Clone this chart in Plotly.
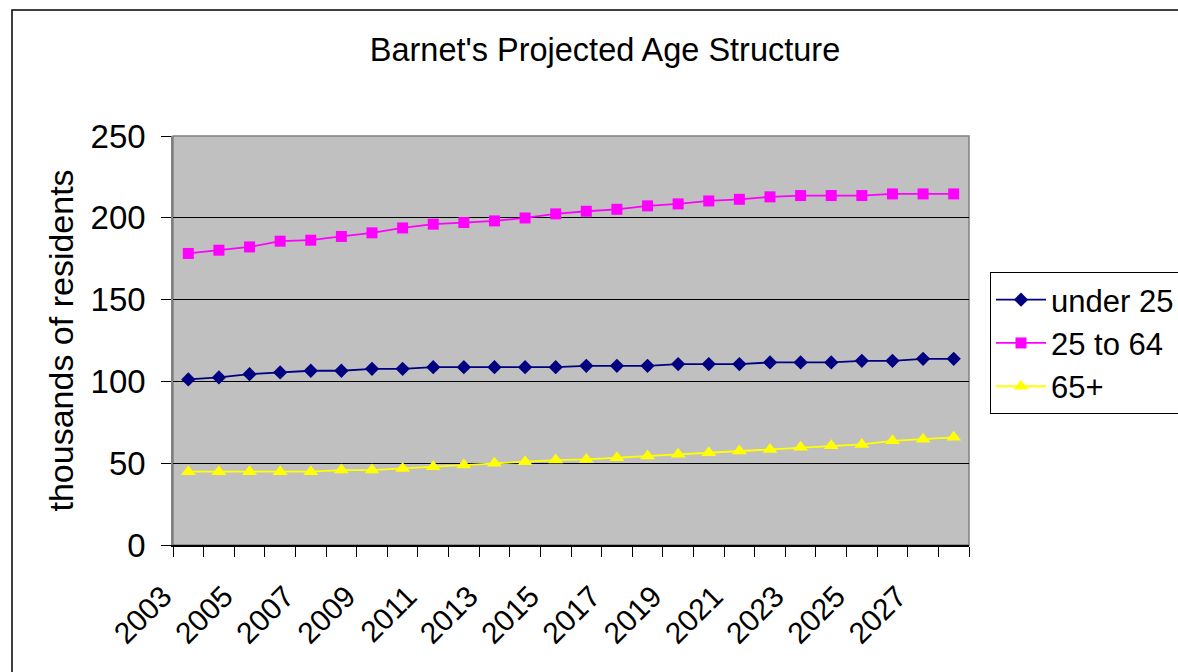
import plotly.graph_objects as go

years = [2003, 2004, 2005, 2006, 2007, 2008, 2009, 2010, 2011, 2012, 2013, 2014, 2015,
         2016, 2017, 2018, 2019, 2020, 2021, 2022, 2023, 2024, 2025, 2026, 2027, 2028]
under_25 = [101.2, 102.4, 104.4, 105.5, 106.5, 106.5, 107.7, 107.7, 108.7, 108.7, 108.7, 108.7, 108.7,
            109.5, 109.5, 109.5, 110.6, 110.6, 110.6, 111.6, 111.6, 111.6, 112.6, 112.6, 113.8, 113.8]
age_25_64 = [178.2, 180.2, 182.2, 185.7, 186.3, 188.6, 190.8, 193.8, 196.1, 197.1, 198.1, 199.9, 202.4,
             204.0, 205.2, 207.3, 208.5, 210.3, 211.3, 212.8, 213.6, 213.6, 213.6, 214.6, 214.6, 214.6]
age_65_plus = [44.8, 44.8, 44.8, 44.8, 44.8, 45.8, 45.8, 46.8, 47.8, 48.9, 49.9, 50.9, 51.9,
               52.3, 53.3, 54.4, 55.4, 56.4, 57.4, 58.4, 59.7, 60.7, 61.5, 63.7, 64.7, 65.8]
y_ticks = [0, 50, 100, 150, 200, 250]

FONT = "Arial, 'Liberation Sans', sans-serif"

fig = go.Figure()
fig.add_trace(go.Scatter(x=years, y=under_25, name="under 25", mode="lines+markers",
                         line=dict(color="#000080", width=1.8),
                         marker=dict(symbol="diamond", size=11, color="#000080")))
fig.add_trace(go.Scatter(x=years, y=age_25_64, name="25 to 64", mode="lines+markers",
                         line=dict(color="#FF00FF", width=1.8),
                         marker=dict(symbol="square", size=11, color="#FF00FF")))
fig.add_trace(go.Scatter(x=years, y=age_65_plus, name="65+", mode="lines+markers",
                         line=dict(color="#FFFF00", width=1.8),
                         marker=dict(symbol="triangle-up", size=13, color="#FFFF00")))

# category boundaries for tick marks; label every other year at its left boundary
tick_pos = [y - 0.5 for y in years] + [years[-1] + 0.5]
tick_txt = [str(y) if i % 2 == 0 else "" for i, y in enumerate(years)] + [""]

ML, MR, MT, MB = 173, 209, 136, 127
W, H = 1178, 672
pw = W - ML - MR
ph = H - MT - MB

def px_x(p):
    return (p - ML) / pw

def px_y(p):
    return (H - MB - p) / ph

fig.update_layout(
    width=W, height=H,
    margin=dict(l=ML, r=MR, t=MT, b=MB, autoexpand=False),
    paper_bgcolor="white",
    plot_bgcolor="#C0C0C0",
    font=dict(family=FONT, color="black"),
    title=dict(text="Barnet's Projected Age Structure", x=605 / W, xref="container",
               xanchor="center", y=1 - 50 / H, yref="container", yanchor="middle",
               font=dict(size=32.5, family=FONT, color="black")),
    xaxis=dict(range=[years[0] - 0.5, years[-1] + 0.5], tickmode="array",
               tickvals=tick_pos, ticktext=tick_txt, tickangle=-45,
               ticks="outside", ticklen=10, tickcolor="black", tickwidth=1,
               showline=True, linecolor="black", linewidth=1.5,
               showgrid=False, zeroline=False, ticklabelstandoff=10,
               ticklabelshift=-10,
               tickfont=dict(size=30, family=FONT, color="black")),
    yaxis=dict(range=[0, 250], tickmode="array", tickvals=y_ticks,
               ticks="outside", ticklen=10, tickcolor="black", tickwidth=1,
               showline=True, linecolor="#808080", linewidth=1.5,
               showgrid=True, gridcolor="black", gridwidth=1, zeroline=False,
               ticklabelstandoff=9,
               tickfont=dict(size=33, family=FONT, color="black")),
    legend=dict(x=px_x(990), y=px_y(272), xanchor="left", yanchor="top",
                bordercolor="black", borderwidth=1, bgcolor="white",
                font=dict(size=31, family=FONT, color="black"),
                tracegroupgap=0, itemwidth=50),
    showlegend=True,
    annotations=[dict(text="thousands of residents", x=px_x(60), y=0.5, xref="paper",
                      yref="paper", xanchor="center", yanchor="middle", textangle=-90,
                      showarrow=False, font=dict(size=34, family=FONT, color="black"))],
    shapes=[
        dict(type="rect", xref="paper", yref="paper", x0=0, x1=1, y0=0, y1=1,
             line=dict(color="#808080", width=1.5), layer="between"),
        dict(type="rect", xref="paper", yref="paper", x0=px_x(12), x1=px_x(1300),
             y0=px_y(10), y1=px_y(800), line=dict(color="black", width=1.5), layer="above"),
    ],
)

fig.write_html("out.html")
